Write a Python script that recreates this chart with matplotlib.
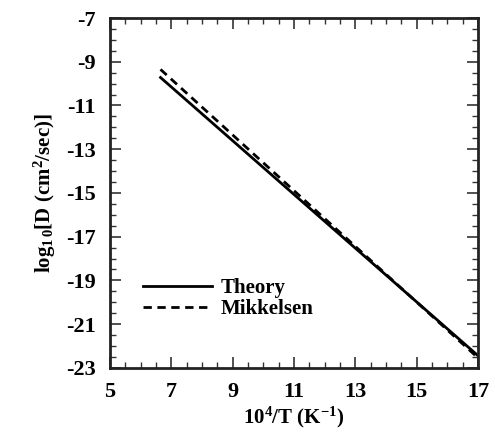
import matplotlib
matplotlib.use('Agg')
from matplotlib import pyplot as plt
from matplotlib.ticker import MultipleLocator

# x = 10^4/T, y = log10 D
theory_x = [6.65, 17.0]
theory_y = [-9.72, -22.45]
mikkelsen_x = [6.65, 17.0]
mikkelsen_y = [-9.35, -22.55]

x_ticks = [5, 7, 9, 11, 13, 15, 17]
x_tick_labels = ['5', '7', '9', '11', '13', '15', '17']
y_ticks = [-23, -21, -19, -17, -15, -13, -11, -9, -7]
y_tick_labels = ['-23', '-21', '-19', '-17', '-15', '-13', '-11', '-9', '-7']

plt.rcParams['font.family'] = ['Liberation Serif', 'DejaVu Serif']
plt.rcParams['font.weight'] = 'bold'
plt.rcParams['mathtext.fontset'] = 'custom'
plt.rcParams['mathtext.rm'] = 'Liberation Serif:bold'
plt.rcParams['mathtext.it'] = 'Liberation Serif:bold'
plt.rcParams['mathtext.default'] = 'rm'

fig = plt.figure(figsize=(4.95, 4.4), dpi=100)
ax = fig.add_axes([0.222, 0.164, 0.744, 0.795])

ax.plot(theory_x, theory_y, color='black', lw=2, label='Theory')
ax.plot(mikkelsen_x, mikkelsen_y, color='black', lw=2, ls=(0, (3, 2)), label='Mikkelsen')

ax.set_xlim(5, 17)
ax.set_ylim(-23, -7)
ax.set_xticks(x_ticks)
ax.set_xticklabels(x_tick_labels)
ax.set_yticks(y_ticks)
ax.set_yticklabels(y_tick_labels)
ax.xaxis.set_minor_locator(MultipleLocator(0.5))
ax.yaxis.set_minor_locator(MultipleLocator(0.5))
ax.tick_params(which='both', direction='in', top=True, right=True, color='#333333', labelsize=16)
ax.tick_params(which='major', length=8, width=1.2, pad=10)
ax.tick_params(which='minor', length=4, width=1.0)
for s in ax.spines.values():
    s.set_linewidth(2)
    s.set_color('#222222')

ax.set_xlabel(r'10$^{4}$/T (K$^{-1}$)', fontsize=15, fontweight='bold', labelpad=2)
ax.set_ylabel(r'log$_{1\,0}$[D (cm$^{2}$/sec)]', fontsize=15, fontweight='bold', labelpad=6)

leg = ax.legend(loc='lower left', bbox_to_anchor=(0.04, 0.085), frameon=False,
                prop={'size': 15, 'weight': 'bold'}, handlelength=3.3,
                handletextpad=0.4, labelspacing=0.05)

fig.savefig('out.png', dpi=100)
